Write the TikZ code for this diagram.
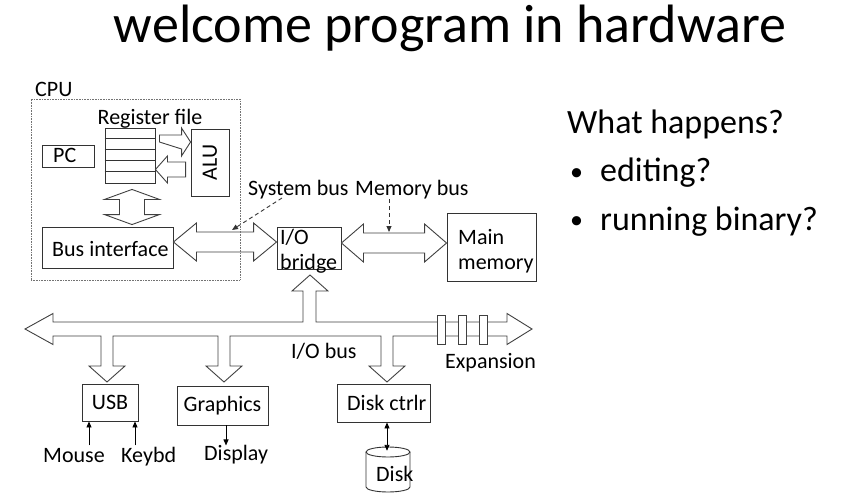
\documentclass[tikz,border=0pt]{standalone}
\usepackage{fontspec}
\setmainfont{Carlito}
\usetikzlibrary{arrows.meta,calc}
% horizontal double block arrow: #1 left tip, #2 right tip (x only), #3 shaft half, #4 head half, #5 head length
\newcommand\hdarrow[5]{%
  \draw[blk] let \p1=(#1), \p2=(#2) in
    (\x1,\y1) -- (\x1+#5pt,\y1+#4pt) -- (\x1+#5pt,\y1+#3pt) -- (\x2-#5pt,\y1+#3pt)
    -- (\x2-#5pt,\y1+#4pt) -- (\x2,\y1) -- (\x2-#5pt,\y1-#4pt) -- (\x2-#5pt,\y1-#3pt)
    -- (\x1+#5pt,\y1-#3pt) -- (\x1+#5pt,\y1-#4pt) -- cycle;}
% vertical double block arrow: #1 top tip, #2 bottom tip (y only)
\newcommand\vdarrow[5]{%
  \draw[blk] let \p1=(#1), \p2=(#2) in
    (\x1,\y1) -- (\x1+#4pt,\y1-#5pt) -- (\x1+#3pt,\y1-#5pt) -- (\x1+#3pt,\y2+#5pt)
    -- (\x1+#4pt,\y2+#5pt) -- (\x1,\y2) -- (\x1-#4pt,\y2+#5pt) -- (\x1-#3pt,\y2+#5pt)
    -- (\x1-#3pt,\y1-#5pt) -- (\x1-#4pt,\y1-#5pt) -- cycle;}
\begin{document}
\begin{tikzpicture}[x=1pt,y=-1pt]
\tikzset{
  lab/.style={font=\fontsize{22}{26}\selectfont,inner sep=0pt,text=black},
  box/.style={draw=black!80,line width=0.9pt,inner sep=0pt,lab},
  blk/.style={draw=black!75,line width=0.9pt,fill=white,line join=miter},
  cpubox/.style={draw=black!55,line width=0.6pt,dash pattern=on 0.8pt off 0.8pt,inner sep=0pt},
  dasharr/.style={draw=black!80,line width=0.9pt,dash pattern=on 4pt off 3pt,-{Triangle[length=6pt,width=5pt]}},
  sarr/.style={draw=black,line width=0.9pt,-{Triangle[length=6pt,width=5pt]}},
  darr/.style={draw=black,line width=0.9pt,{Triangle[length=6pt,width=5pt]}-{Triangle[length=6pt,width=5pt]}},
  cyl/.style={draw=black!80,line width=0.9pt},
  side/.style={inner sep=0pt,anchor=base west,font=\fontsize{34}{40}\selectfont},
  bul/.style={inner sep=0pt,anchor=base west,font=\fontsize{26}{30}\selectfont},
}
\useasboundingbox (0,0) rectangle (854,500);

% title and side text
\node[inner sep=0pt,anchor=base,font=\fontsize{54}{60}\selectfont] (title) at (450,43) {welcome program in hardware};
\node[side] (q) at (567,134) {What happens?};
\node[bul] (b1) at (570,180) {•};
\node[side] (t1) at (600,182) {editing?};
\node[bul] (b2) at (570,228) {•};
\node[side] (t2) at (600,230) {running binary?};

% CPU contents
\node[lab,anchor=base west] (cpulab) at (35,97) {CPU};
\node[lab,anchor=base] (reglab) at (150,125) {Register file};
\node[box,minimum width=50pt,minimum height=55pt] (reg) at (130,155.5) {};
\foreach \i in {1,...,4}
  \draw[draw=black!80,line width=0.9pt] ($(reg.north west)+(0,11*\i)$) -- ($(reg.north east)+(0,11*\i)$);
\node[box,minimum width=52pt,minimum height=22pt] (pc) at (68,156) {};
\node[lab,anchor=base west] (pclab) at (53,163) {PC};
\node[box,minimum width=38pt,minimum height=67pt] (alu) at (210,162.5) {\rotatebox{90}{ALU}};
\node[box,minimum width=131pt,minimum height=41pt] (busif) at (107.5,247.5) {};
\node[lab,anchor=base west] (busiflab) at (52,256) {Bus interface};

% register <-> ALU
\draw[blk] ($(reg.east)+(4,-20.5)$) -- ($(alu.west)+(-9,-27.5)$) -- ($(alu.west)+(-9,-34.5)$)
  -- ($(alu.west)+(0,-20.5)$) -- ($(alu.west)+(-9,-6.5)$) -- ($(alu.west)+(-9,-13.5)$)
  -- ($(reg.east)+(4,-13.5)$) -- cycle;
\draw[blk] ($(alu.west)+(-5,-0.5)$) -- ($(reg.east)+(12,6.5)$) -- ($(reg.east)+(12,0.5)$)
  -- ($(reg.east)+(0,14)$) -- ($(reg.east)+(12,27.5)$) -- ($(reg.east)+(12,21.5)$)
  -- ($(alu.west)+(-5,14.5)$) -- cycle;
% register <-> bus interface
\vdarrow{$(reg.south)+(2,6)$}{$(busif.north)+(0,-2)$}{12.5}{27.5}{10}

% bridge and memory
\node[box,minimum width=64pt,minimum height=42pt] (iob) at (309,248) {};
\node[lab,anchor=base west] (ioblab1) at (280,244) {I/O};
\node[lab,anchor=base west] (ioblab2) at (280,269) {bridge};
\node[box,minimum width=89pt,minimum height=68pt] (mem) at (491.5,247) {};
\node[lab,anchor=base west] (memlab1) at (458,244) {Main};
\node[lab,anchor=base west] (memlab2) at (458,269) {memory};

% system bus and memory bus
\hdarrow{$(busif.east)+(0,-5.5)$}{iob.west}{10}{19}{23}
\hdarrow{$(iob.east)+(0,-5)$}{mem.west}{10}{19}{22}
\node[lab,anchor=base west] (sysbus) at (248,195) {System bus};
\node[lab,anchor=base west] (membus) at (355,195) {Memory bus};
\coordinate (sbtip) at (232,230);
\coordinate (mbtip) at (389,232);
\draw[dasharr] ($(sysbus.base west)+(34,3)$) -- (sbtip);
\draw[dasharr] ($(membus.base west)+(34,4)$) -- (mbtip);

% CPU dotted frame
\node[cpubox,minimum width=209pt,minimum height=181pt] (cpu) at (135.5,189.5) {};

% I/O bus
\draw[blk] (25,329) -- (53,313.5) -- (53,322) -- (303,322) -- (303,291) -- (292,291) -- (310,275)
  -- (328,291) -- (316,291) -- (316,322) -- (507,322) -- (507,313.5) -- (532,329) -- (507,344.5)
  -- (507,336) -- (393,336) -- (393,366) -- (405,366) -- (387,382) -- (369,366) -- (381,366)
  -- (381,336) -- (230,336) -- (230,366) -- (242,366) -- (224,382) -- (206,366) -- (218,366)
  -- (218,336) -- (113,336) -- (113,366) -- (125,366) -- (107,382) -- (89,366) -- (101,366)
  -- (101,336) -- (53,336) -- (53,344.5) -- cycle;
\draw[blk] (437,315) rectangle (445,344);
\draw[blk] (458,315) rectangle (466,344);
\draw[blk] (479,315) rectangle (487,344);
\node[lab,anchor=base west] (iobus) at (291,358) {I/O bus};
\node[lab,anchor=base west] (exp) at (445,368) {Expansion};

% controllers
\node[box,minimum width=56pt,minimum height=37pt] (usb) at (110,402.5) {USB};
\node[box,minimum width=91pt,minimum height=39pt] (gfx) at (222.5,405.5) {Graphics};
\node[box,minimum width=93pt,minimum height=38pt] (dctl) at (383.5,403) {};
\node[lab,anchor=base west] (dctllab) at (347,410) {Disk ctrlr};

\node[lab,anchor=base west] (mouse) at (43,462) {Mouse};
\node[lab,anchor=base west] (keybd) at (121,462) {Keybd};
\node[lab,anchor=base west] (disp) at (204,460) {Display};
\draw[sarr] ($(usb.south)+(-21,24)$) -- ($(usb.south)+(-21,0)$);
\draw[sarr] ($(usb.south)+(25,24)$) -- ($(usb.south)+(25,0)$);
\draw[sarr] ($(gfx.south)+(3.5,0)$) -- ($(gfx.south)+(3.5,20)$);

% disk
\node[inner sep=0pt,minimum width=44pt,minimum height=45pt] (disk) at (388,469.5) {};
\draw[cyl] (366,452) -- (366,487) arc[start angle=180,end angle=0,x radius=22,y radius=5] -- (410,452);
\draw[cyl] (388,452) ellipse [x radius=22,y radius=5];
\node[lab,anchor=base west] (disklab) at (376,481) {Disk};
\draw[darr] ($(dctl.south)+(3.5,0)$) -- ($(disk.north)+(-1,4)$);
\end{tikzpicture}
\end{document}
